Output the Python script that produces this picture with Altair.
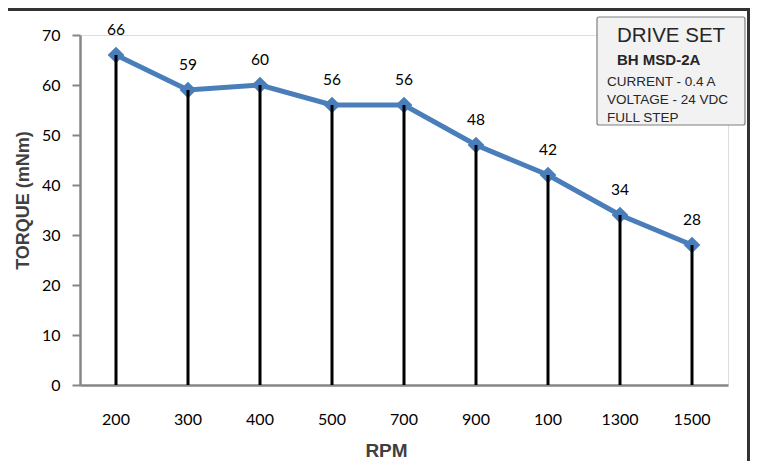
import altair as alt
import pandas as pd

rpm = ["200", "300", "400", "500", "700", "900", "100", "1300", "1500"]
torque = [66, 59, 60, 56, 56, 48, 42, 34, 28]

legend_title = "DRIVE SET"
legend_model = "BH MSD-2A"
legend_lines = ["CURRENT - 0.4 A", "VOLTAGE - 24 VDC", "FULL STEP"]

df = pd.DataFrame({"rpm": rpm, "torque": torque})

W, H = 648, 350
GRAY = "#868686"
BLUE = "#4a7ebb"
SANS = "Arial, Liberation Sans"

x = alt.X("rpm:N", sort=rpm, scale=alt.Scale(paddingInner=0, paddingOuter=0),
          axis=alt.Axis(title="RPM", labelAngle=0, ticks=False, labelPadding=26,
                        labelFont="Lato", labelFontSize=16, labelColor="black",
                        domainColor=GRAY, domainWidth=2.5,
                        titleFont=SANS, titleFontSize=19, titleFontWeight="bold",
                        titleColor="#404040", titleX=306, titleY=65, titleBaseline="middle"))
y = alt.Y("torque:Q", scale=alt.Scale(domain=[0, 70]),
          axis=alt.Axis(title="TORQUE (mNm)", values=list(range(0, 71, 10)), grid=False,
                        tickSize=8, tickColor=GRAY, tickWidth=2, domainColor=GRAY, domainWidth=2.5,
                        labelFont="Lato", labelFontSize=16, labelColor="black", labelPadding=12,
                        titleFont=SANS, titleFontSize=18, titleFontWeight="bold",
                        titleColor="#404040", titleX=-57, titleY=165, titleBaseline="middle"))

base = alt.Chart(df)

line = base.mark_line(color=BLUE, strokeWidth=5).encode(x=x, y=y)
pts = base.mark_point(shape="diamond", filled=True, size=280, color=BLUE, opacity=1).encode(x=x, y=y)
rules = base.mark_rule(color="black", strokeWidth=3).encode(x=x, y=y, y2=alt.datum(0))
labels = base.mark_text(font="Lato", fontSize=15.5, color="black", dy=-25).encode(
    x=x, y=y, text="torque:Q")

one = pd.DataFrame({"a": [0]})
# decorations: frame lines and the "DRIVE SET" box
top_line = alt.Chart(one).mark_rule(color="#333333", strokeWidth=3).encode(
    x=alt.value(-72), x2=alt.value(670), y=alt.value(-25.5))
right_line = alt.Chart(one).mark_rule(color="#333333", strokeWidth=3).encode(
    x=alt.value(668.5), y=alt.value(-27), y2=alt.value(H + 77))
box = alt.Chart(one).mark_rect(fill="#f2f2f2", stroke="#7f7f7f", strokeWidth=1.2,
                               cornerRadius=2).encode(
    x=alt.value(517), x2=alt.value(665), y=alt.value(-18), y2=alt.value(90))


def txt(s, xv, yv, size, weight="normal", align="left"):
    return alt.Chart(pd.DataFrame({"t": [s]})).mark_text(
        font=SANS, fontSize=size, fontWeight=weight, color="#262626", align=align,
        baseline="alphabetic").encode(x=alt.value(xv), y=alt.value(yv), text="t:N")


t1 = txt(legend_title, 591, 7, 20.5, align="center")
t2 = txt(legend_model, 537, 30, 15, weight="bold")
t3 = txt(legend_lines[0], 527, 51, 13.5)
t4 = txt(legend_lines[1], 527, 69, 13.5)
t5 = txt(legend_lines[2], 527, 87, 13.5)

chart = alt.layer(top_line, right_line, line, pts, rules, labels, box, t1, t2, t3, t4, t5).properties(
    width=W, height=H,
    autosize=alt.AutoSizeParams(type="none"),
    padding={"left": 72, "top": 27, "right": 22, "bottom": 76},
).configure_view(stroke=None).configure(background="white")

chart.save("out.html", embed_options={"renderer": "svg", "actions": False})
